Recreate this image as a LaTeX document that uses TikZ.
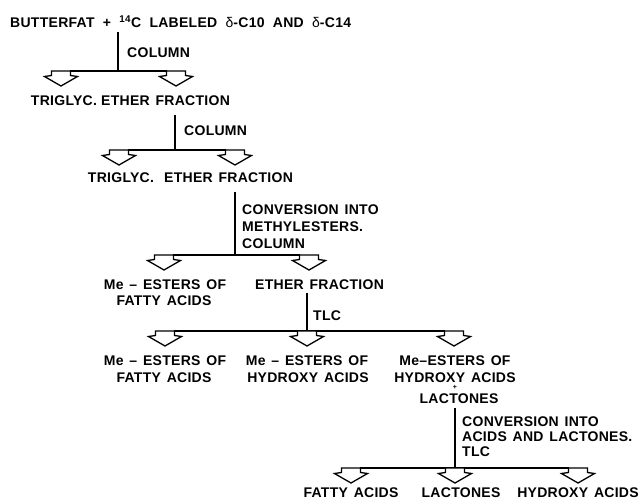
\documentclass[tikz,border=0pt]{standalone}
\usepackage{fontspec}
\setmainfont{Liberation Sans}[LetterSpace=2,WordSpace=1.4]
\newfontfamily\titlefont{Liberation Sans}[LetterSpace=2,WordSpace=2]
\begin{document}
\begin{tikzpicture}[x=1pt,y=-1pt,
  lbl/.style={inner sep=0pt, font=\bfseries\fontsize{14}{17}\selectfont},
  ttl/.style={inner sep=0pt, font=\titlefont\bfseries\fontsize{14}{17}\selectfont},
  small/.style={inner sep=0pt, font=\bfseries\fontsize{7}{7}\selectfont},
  conn/.style={line width=1.4pt},
  harrow/.pic={\draw[line width=1.3pt,fill=white,line join=miter]
     (-9.5,0) -- (9.5,0) -- (9.5,4.5) -- (16.5,5.5) -- (0,15) -- (-16.5,5.5) -- (-9.5,4.5) -- cycle;}
]
\useasboundingbox (0,0) rectangle (644,503);

% ---------- texts ----------
\node[ttl,anchor=base west] (src) at (10,28) {BUTTERFAT + \textsuperscript{14}C LABELED {\mdseries δ}-C10 AND {\mdseries δ}-C14};
\node[lbl,anchor=base west] (col1) at (127,57) {COLUMN};
\node[lbl,anchor=base] (tri1) at (64,105) {TRIGLYC.};
\node[lbl,anchor=base west] (eth1) at (101,105) {ETHER FRACTION};
\node[lbl,anchor=base west] (col2) at (184,135) {COLUMN};
\node[lbl,anchor=base] (tri2) at (121,182) {TRIGLYC.};
\node[lbl,anchor=base west] (eth2) at (164,182) {ETHER FRACTION};
\node[lbl,anchor=base west] (cv1a) at (242,214) {CONVERSION INTO};
\node[lbl,anchor=base west] (cv1b) at (242,231) {METHYLESTERS.};
\node[lbl,anchor=base west] (cv1c) at (242,248) {COLUMN};
\node[lbl,anchor=base] (mfa1a) at (165,289) {Me – ESTERS OF};
\node[lbl,anchor=base] (mfa1b) at (164,305) {FATTY ACIDS};
\node[lbl,anchor=base west] (eth3) at (255,289) {ETHER FRACTION};
\node[lbl,anchor=base west] (tlc1) at (313,320) {TLC};
\node[lbl,anchor=base] (mfa2a) at (165,365) {Me – ESTERS OF};
\node[lbl,anchor=base] (mfa2b) at (164,382) {FATTY ACIDS};
\node[lbl,anchor=base] (mha2a) at (307,365) {Me – ESTERS OF};
\node[lbl,anchor=base] (mha2b) at (308,382) {HYDROXY ACIDS};
\node[lbl,anchor=base] (mhl2a) at (455,365) {Me–ESTERS OF};
\node[lbl,anchor=base] (mhl2b) at (455,382) {HYDROXY ACIDS};
\node[small] (plus) at (455,387.5) {+};
\node[lbl,anchor=base] (mhl2c) at (459,403.5) {LACTONES};
\node[lbl,anchor=base west] (cv2a) at (462,426) {CONVERSION INTO};
\node[lbl,anchor=base west] (cv2b) at (462,441) {ACIDS AND LACTONES.};
\node[lbl,anchor=base west] (cv2c) at (462,456) {TLC};
\node[lbl,anchor=base] (fa) at (351,497) {FATTY ACIDS};
\node[lbl,anchor=base] (lac) at (461,497) {LACTONES};
\node[lbl,anchor=base] (hya) at (578,497) {HYDROXY ACIDS};

% ---------- junction / arrow coordinates ----------
\coordinate (v1s) at (118,32);  \coordinate (j1) at (118,71);
\coordinate (a11) at (61,71);   \coordinate (a12) at (176,71);
\coordinate (v2s) at (175,115); \coordinate (j2) at (175,150);
\coordinate (a21) at (119,150); \coordinate (a22) at (235,150);
\coordinate (v3s) at (235,192); \coordinate (j3) at (235,255);
\coordinate (a31) at (164,255); \coordinate (a32) at (309,255);
\coordinate (v4s) at (307,293); \coordinate (j4) at (307,331);
\coordinate (a41) at (165,331); \coordinate (a42) at (307,331); \coordinate (a43) at (454,331);
\coordinate (v5s) at (455,408); \coordinate (j5) at (455,468);
\coordinate (a51) at (351,468); \coordinate (a52) at (455,468); \coordinate (a53) at (578,468);

% ---------- connectors ----------
\draw[conn] (v1s) -- (j1);
\draw[conn] ([xshift=9pt]a11) -- ([xshift=-9pt]a12);
\draw[conn] (v2s) -- (j2);
\draw[conn] ([xshift=9pt]a21) -- ([xshift=-9pt]a22);
\draw[conn] (v3s) -- (j3);
\draw[conn] ([xshift=9pt]a31) -- ([xshift=-9pt]a32);
\draw[conn] (v4s) -- (j4);
\draw[conn] ([xshift=9pt]a41) -- ([xshift=-9pt]a43);
\draw[conn] (v5s) -- (j5);
\draw[conn] ([xshift=9pt]a51) -- ([xshift=-9pt]a53);

% ---------- hollow arrows ----------
\foreach \a in {a11,a12,a21,a22,a31,a32,a41,a42,a43,a51,a52,a53}
  \pic at (\a) {harrow};
\end{tikzpicture}
\end{document}
